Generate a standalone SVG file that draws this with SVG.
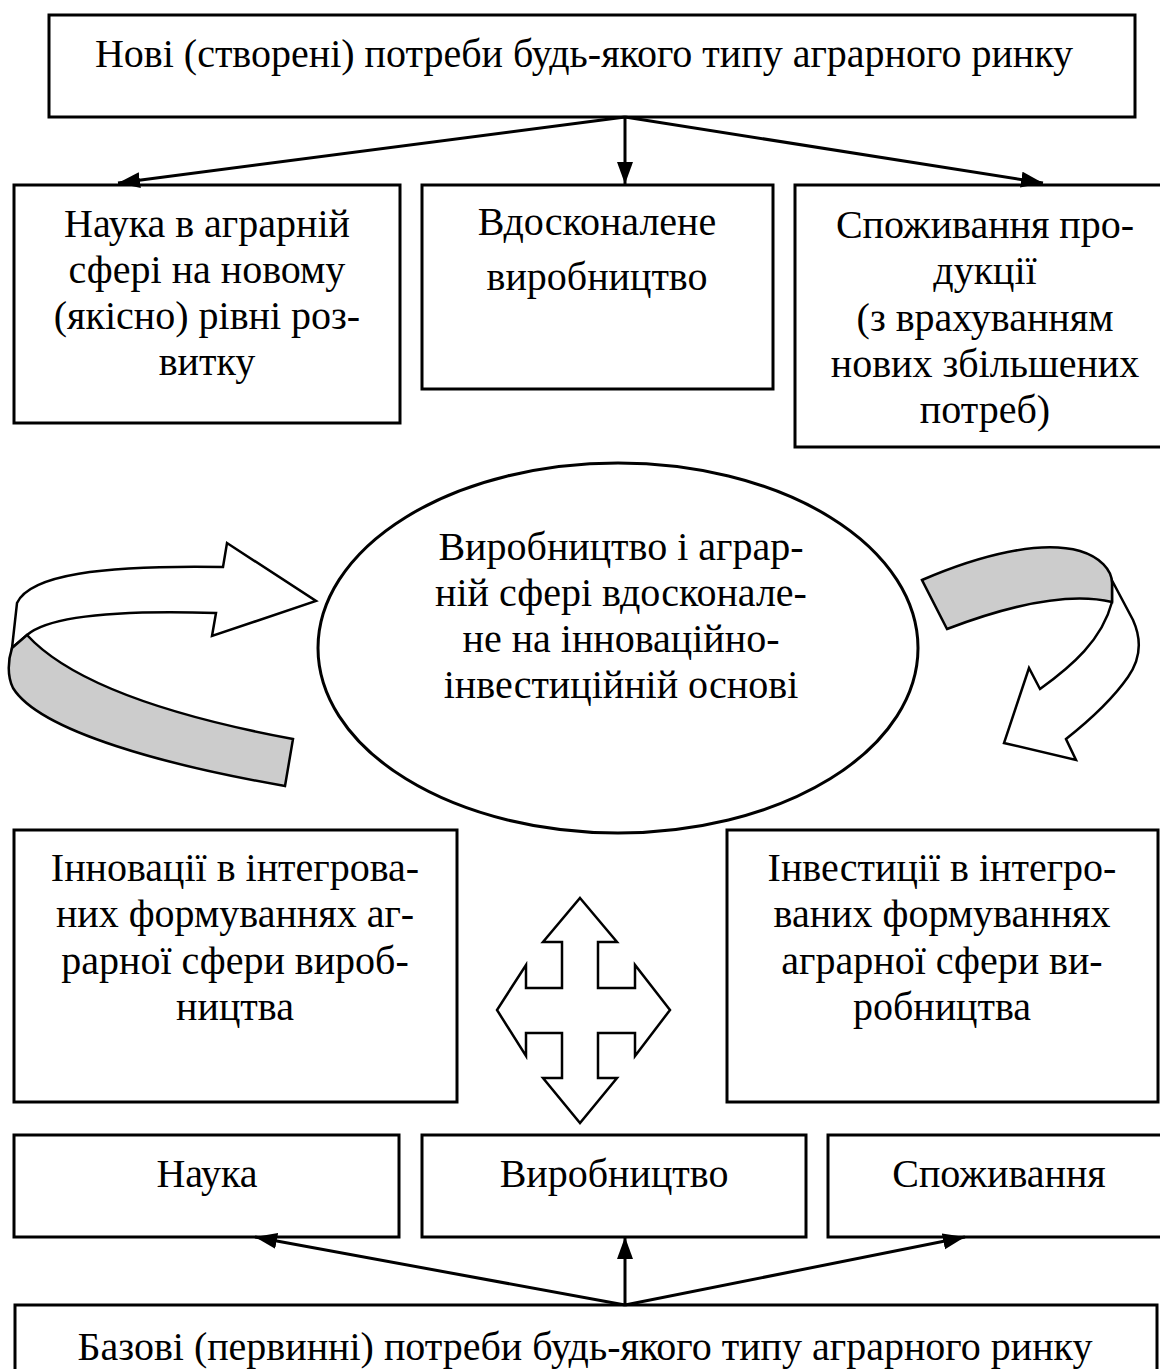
<svg xmlns="http://www.w3.org/2000/svg" width="1160" height="1369" viewBox="0 0 1160 1369">
<style>
.box{fill:#fff;stroke:#000;stroke-width:3}
.t{font-family:"Liberation Serif","DejaVu Serif",serif;font-size:40px;fill:#000;text-anchor:middle}
.con{stroke:#000;stroke-width:3;fill:none}
.sh{stroke:#000;stroke-width:2.5;stroke-linejoin:miter}
</style>
<defs>
<marker id="ah" markerUnits="userSpaceOnUse" markerWidth="24" markerHeight="18" refX="22" refY="8" orient="auto">
<path d="M0,0 L22,8 L0,16 Z" fill="#000"/>
</marker>
</defs>
<rect width="1160" height="1369" fill="#fff"/>

<g id="top">
<rect class="box" x="49" y="15" width="1086" height="102"/>
<text class="t" x="584" y="67">Нові (створені) потреби будь-якого типу аграрного ринку</text>
</g>

<g id="nauka-agr">
<rect class="box" x="14" y="185" width="386" height="238"/>
<text class="t" x="207" y="237">Наука в аграрній</text>
<text class="t" x="207" y="283">сфері на новому</text>
<text class="t" x="207" y="329">(якісно) рівні роз-</text>
<text class="t" x="207" y="375">витку</text>
</g>

<g id="vdoskon">
<rect class="box" x="422" y="185" width="351" height="204"/>
<text class="t" x="597" y="235">Вдосконалене</text>
<text class="t" x="597" y="290">виробництво</text>
</g>

<g id="spozh-prod">
<rect class="box" x="795" y="185" width="380" height="262"/>
<text class="t" x="985" y="238">Споживання про-</text>
<text class="t" x="985" y="284">дукції</text>
<text class="t" x="985" y="331"> (з врахуванням</text>
<text class="t" x="985" y="377">нових збільшених</text>
<text class="t" x="985" y="423">потреб)</text>
</g>

<g id="ellipse">
<ellipse cx="618" cy="648" rx="300" ry="185" fill="#fff" stroke="#000" stroke-width="3"/>
<text class="t" x="621" y="560">Виробництво і аграр-</text>
<text class="t" x="621" y="606">ній сфері вдосконале-</text>
<text class="t" x="621" y="652">не на інноваційно-</text>
<text class="t" x="621" y="698">інвестиційній основі</text>
</g>

<g id="curve-left">
<path class="sh" fill="#fff" d="M17,603 C30,575 100,565 223,567 L227,543 L316,601 L212,636 L216,613 C120,610 50,615 27,635 L12,648 Z"/>
<path class="sh" fill="#cccccc" d="M27,635 C70,682 170,716 293,739 L285,786 C170,766 40,732 13,688 C7,676 8,660 12,648 Z"/>
</g>

<g id="curve-right">
<path class="sh" fill="#fff" d="M1107,571 L1133,620 C1142,640 1140,660 1128,677 C1112,700 1090,720 1066,739 L1076,760 L1004,743 L1029,668 L1040,689 C1072,666 1102,640 1112,602 L1112,583 Z"/>
<path class="sh" fill="#cccccc" d="M922,580 C980,555 1040,540 1080,551 C1100,557 1112,570 1112,583 L1112,602 C1070,592 1010,605 947,629 Z"/>
</g>

<g id="innov">
<rect class="box" x="14" y="830" width="443" height="272"/>
<text class="t" x="235" y="881">Інновації в інтегрова-</text>
<text class="t" x="235" y="927">них формуваннях аг-</text>
<text class="t" x="235" y="974">рарної сфери вироб-</text>
<text class="t" x="235" y="1020">ництва</text>
</g>

<g id="invest">
<rect class="box" x="727" y="830" width="431" height="272"/>
<text class="t" x="942" y="881">Інвестиції в інтегро-</text>
<text class="t" x="942" y="927">ваних формуваннях</text>
<text class="t" x="942" y="974">аграрної сфери ви-</text>
<text class="t" x="942" y="1020">робництва</text>
</g>

<g id="cross">
<path class="sh" fill="#fff" d="M580,898 L617,942 L598,942 L598,988 L635,988 L635,965 L670,1010 L635,1056 L635,1033 L598,1033 L598,1078 L617,1078 L580,1123 L543,1078 L562,1078 L562,1033 L526,1033 L526,1056 L497,1010 L526,965 L526,988 L562,988 L562,942 L543,942 Z"/>
</g>

<g id="nauka">
<rect class="box" x="14" y="1135" width="385" height="102"/>
<text class="t" x="207" y="1187">Наука</text>
</g>
<g id="vyrob">
<rect class="box" x="422" y="1135" width="384" height="102"/>
<text class="t" x="614" y="1187">Виробництво</text>
</g>
<g id="spozh">
<rect class="box" x="828" y="1135" width="340" height="102"/>
<text class="t" x="999" y="1187">Споживання</text>
</g>

<g id="base">
<rect class="box" x="15" y="1305" width="1142" height="90"/>
<text class="t" x="585" y="1360">Базові (первинні) потреби будь-якого типу аграрного ринку</text>
</g>

<g id="connectors">
<line class="con" x1="625" y1="117" x2="118" y2="183" marker-end="url(#ah)"/>
<line class="con" x1="625" y1="117" x2="625" y2="184" stroke-width="2" marker-end="url(#ah)"/>
<line class="con" x1="625" y1="117" x2="1043" y2="183" marker-end="url(#ah)"/>
<line class="con" x1="625" y1="1305" x2="255" y2="1237" marker-end="url(#ah)"/>
<line class="con" x1="625" y1="1305" x2="625" y2="1237" stroke-width="2" marker-end="url(#ah)"/>
<line class="con" x1="625" y1="1305" x2="965" y2="1237" marker-end="url(#ah)"/>
</g>
</svg>
